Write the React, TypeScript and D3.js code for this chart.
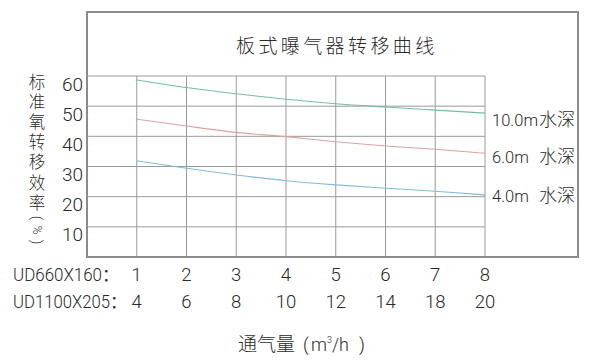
import React from "react";
import * as d3 from "d3";

const flowA = ["1", "2", "3", "4", "5", "6", "7", "8"];
const flowB = ["4", "6", "8", "10", "12", "14", "18", "20"];
const xIdx = [1, 2, 3, 4, 5, 6, 7, 8];
const yTicks = [10, 20, 30, 40, 50, 60];
const depth10 = [58.7, 56.2, 54.1, 52.3, 50.8, 49.7, 48.7, 47.7];
const depth6 = [45.7, 43.4, 41.3, 39.9, 38.2, 36.8, 35.7, 34.4];
const depth4 = [31.9, 29.4, 27.2, 25.3, 23.9, 22.8, 21.8, 20.6];
const seriesNames = ["10.0m", "6.0m", "4.0m"];
const seriesColors = ["#74bca8", "#dca39e", "#80bcd6"];
const yAxisChars = ["标", "准", "氧", "转", "移", "效", "率"];

const LATIN = "Roboto, 'Liberation Sans', Arial, sans-serif";
const CJK = "'Noto Sans CJK SC', sans-serif";
const TXT = "#2a2a2a";
const LW = 300;

export default function App() {
  const x = d3.scaleLinear().domain([0, 8]).range([87, 485]);
  const y = d3.scaleLinear().domain([0, 60]).range([257, 76]);
  const line = d3
    .line<number>()
    .x((_, i) => x(xIdx[i]))
    .y((d) => y(d))
    .curve(d3.curveMonotoneX);
  const series = [depth10, depth6, depth4];
  const labelBaselines = [126, 163, 202];

  const vCenters = [81, 101, 121, 141, 161, 182, 202];

  return (
    <svg width={593} height={362} style={{ position: "absolute", left: 0, top: 0, background: "#fff" }}>
      <rect x={0} y={0} width={593} height={362} fill="#fff" />
      {/* grid */}
      {yTicks.map((t) => (
        <line key={"h" + t} x1={87} x2={485} y1={y(t)} y2={y(t)} stroke="#9a9a9a" strokeWidth={1} />
      ))}
      {xIdx.map((v) => (
        <line key={"v" + v} x1={x(v)} x2={x(v)} y1={y(60)} y2={257} stroke="#9a9a9a" strokeWidth={1} />
      ))}
      {/* frame */}
      <rect x={87} y={12} width={491} height={245} fill="none" stroke="#8c8c8c" strokeWidth={2} />

      {/* title */}
      <text x={236} y={53} fontFamily={CJK} fontSize={19} fontWeight={300} letterSpacing={3.4} fill={TXT}>
        板式曝气器转移曲线
      </text>

      {/* curves */}
      {series.map((s, i) => (
        <path key={"s" + i} d={line(s) || ""} fill="none" stroke={seriesColors[i]} strokeWidth={1.1} />
      ))}

      {/* series labels */}
      {seriesNames.map((n, i) => (
        <g key={"l" + i}>
          <text x={492} y={labelBaselines[i]} fontFamily={LATIN} fontWeight={LW} fontSize={16.5} fill={TXT}>
            {n}
          </text>
          <text x={539} y={labelBaselines[i]} fontFamily={CJK} fontSize={18} fontWeight={300} fill={TXT}>
            水深
          </text>
        </g>
      ))}

      {/* y tick labels */}
      {yTicks.map((t) => (
        <text key={"yt" + t} x={83} y={y(t) + 14.5} textAnchor="end" fontFamily={LATIN} fontWeight={LW} fontSize={19} fill={TXT}>
          {t}
        </text>
      ))}

      {/* y axis title, vertical */}
      {yAxisChars.map((c, i) => (
        <text key={"yc" + i} x={37} y={vCenters[i]} textAnchor="middle" dominantBaseline="central" fontFamily={CJK} fontSize={16.5} fontWeight={300} fill={TXT}>
          {c}
        </text>
      ))}
      <text x={37} y={218} textAnchor="middle" dominantBaseline="central" fontFamily={LATIN} fontWeight={LW} fontSize={14} fill={TXT} transform="rotate(90 37 218)">
        (
      </text>
      <text x={37} y={230} textAnchor="middle" dominantBaseline="central" fontFamily={LATIN} fontWeight={LW} fontSize={12} fill={TXT} transform="rotate(90 37 230)">
        %
      </text>
      <text x={37} y={242} textAnchor="middle" dominantBaseline="central" fontFamily={LATIN} fontWeight={LW} fontSize={14} fill={TXT} transform="rotate(90 37 242)">
        )
      </text>

      {/* x rows */}
      <text x={13} y={281} fontFamily={LATIN} fontWeight={LW} fontSize={18} fill={TXT} textLength={89} lengthAdjust="spacingAndGlyphs">
        UD660X160
      </text>
      <text x={102} y={281} fontFamily={CJK} fontSize={17} fill={TXT}>
        ：
      </text>
      <text x={13} y={308} fontFamily={LATIN} fontWeight={LW} fontSize={18} fill={TXT} textLength={97} lengthAdjust="spacingAndGlyphs">
        UD1100X205
      </text>
      <text x={110} y={308} fontFamily={CJK} fontSize={17} fill={TXT}>
        ：
      </text>
      {flowA.map((f, i) => (
        <text key={"fa" + i} x={x(xIdx[i])} y={281} textAnchor="middle" fontFamily={LATIN} fontWeight={LW} fontSize={18.5} fill={TXT}>
          {f}
        </text>
      ))}
      {flowB.map((f, i) => (
        <text key={"fb" + i} x={x(xIdx[i])} y={308} textAnchor="middle" fontFamily={LATIN} fontWeight={LW} fontSize={18.5} fill={TXT}>
          {f}
        </text>
      ))}

      {/* x axis title */}
      <text x={238} y={351} fontFamily={CJK} fontSize={19} fontWeight={300} fill={TXT}>
        <tspan>通气量</tspan>
        <tspan x={303} fontFamily={LATIN} fontWeight={LW} fontSize={18}>(</tspan>
        <tspan x={311} fontFamily={LATIN} fontWeight={LW} fontSize={18}>m</tspan>
        <tspan fontFamily={LATIN} fontWeight={LW} fontSize={9} dy={-8}>3</tspan>
        <tspan fontFamily={LATIN} fontWeight={LW} fontSize={18} dy={8}>/h</tspan>
        <tspan x={359} fontFamily={LATIN} fontWeight={LW} fontSize={18}>)</tspan>
      </text>
    </svg>
  );
}
